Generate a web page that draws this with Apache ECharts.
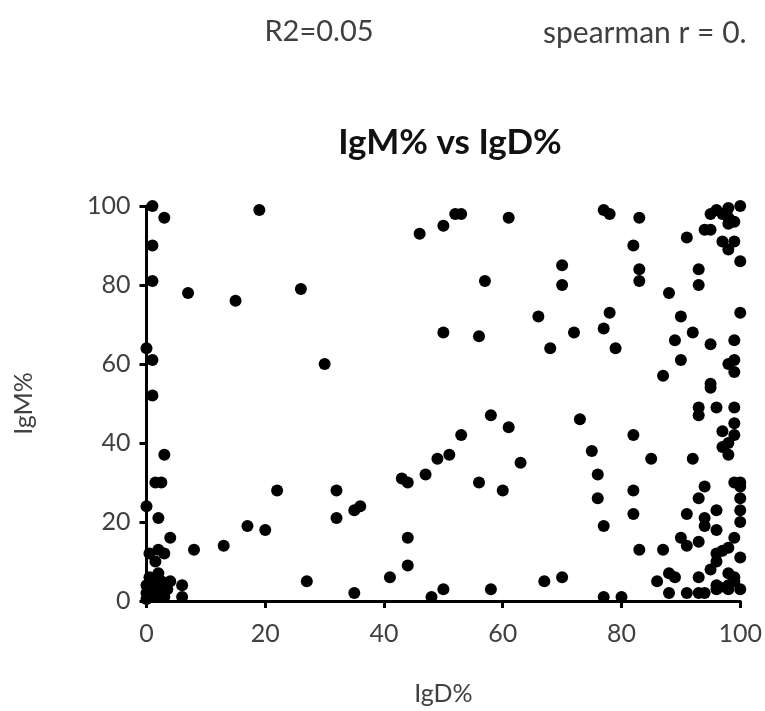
<!DOCTYPE html>
<html>
<head>
<meta charset="utf-8">
<script src="https://cdn.jsdelivr.net/npm/echarts@6/dist/echarts.min.js"></script>
<style>
  html, body { margin: 0; padding: 0; background: #fff; }
  #main { width: 765px; height: 711px; }
</style>
</head>
<body>
<div id="main"></div>
<script>
// IgD% (x) and IgM% (y)
const igD = [
  1, 3, 19, 1, 1, 7, 15, 26, 0, 1, 1, 30, 3, 1.5, 2.5, 0, 2, 4, 8, 13, 17, 20, 22, 27, 6, 6,
  0.5, 2, 3, 1.5, 2, 0.5, 1.5, 0, 1, 2.5, 0.5, 1.5, 0, 3, 2.5, 4, 3.5, 0,
  46, 50, 52, 53, 61, 57, 50, 56, 32, 32, 35, 36, 35, 41, 44, 44, 43, 44, 47, 49, 51, 53, 48, 50,
  56, 58, 60, 61, 63, 58,
  77, 78, 83, 95, 96, 98, 100, 98, 99, 98, 97, 94, 95, 91, 97, 98, 99, 100, 82, 70, 70, 83, 83,
  93, 93, 88, 66, 78, 77, 72, 68, 79, 90, 100, 92, 89, 95, 99, 90, 98, 99, 99, 87, 95, 95, 93,
  96, 99, 93, 99, 97, 99, 97, 98, 98, 73, 75, 76, 76, 77, 82, 82, 82, 85, 83, 87, 92, 94, 93,
  91, 94, 94, 96, 96, 99, 100, 100, 100, 100, 100, 90, 91, 93, 99, 98, 97, 96, 96, 95, 100, 88,
  89, 86, 93, 98, 99, 99, 98, 96, 96.5, 77, 80, 88, 91, 93, 94, 96, 98, 100, 67, 70
];
const igM = [
  100, 97, 99, 90, 81, 78, 76, 79, 64, 61, 52, 60, 37, 30, 30, 24, 21, 16, 13, 14, 19, 18, 28, 5, 4, 1,
  12, 13, 12, 10, 7, 6, 5, 4, 3, 3, 2, 1, 0.5, 1, 5, 5, 3, 2,
  93, 95, 98, 98, 97, 81, 68, 67, 28, 21, 23, 24, 2, 6, 9, 16, 31, 30, 32, 36, 37, 42, 1, 3,
  30, 47, 28, 44, 35, 3,
  99, 98, 97, 98, 99, 99.5, 100, 97, 96, 95.5, 98, 94, 94, 92, 91, 89, 91, 86, 90, 85, 80, 84, 81,
  84, 80, 78, 72, 73, 69, 68, 64, 64, 72, 73, 68, 66, 65, 66, 61, 60, 61, 58, 57, 55, 54, 49,
  49, 49, 47, 45, 43, 42, 39, 40, 37, 46, 38, 32, 26, 19, 42, 28, 22, 36, 13, 13, 36, 29, 26,
  22, 21, 19, 23, 18, 30, 30, 29, 26, 23, 20, 16, 14, 15, 16, 13.5, 12.7, 12, 10, 8, 11, 7,
  6, 5, 6, 7, 6, 5, 4, 4, 3.5, 1, 1, 2, 2, 2, 2, 3, 3, 3, 5, 6
];
const ticks = [0, 20, 40, 60, 80, 100];

const points = igD.map((x, i) => [x, igM[i]]);

const font = 'Lato, "Open Sans", sans-serif';
const axisCommon = {
  min: ticks[0],
  max: ticks[ticks.length - 1],
  interval: ticks[1] - ticks[0],
  splitLine: { show: false },
  axisLine: { show: true, onZero: false, lineStyle: { color: '#000', width: 3 } },
  axisTick: { show: true, length: 7, lineStyle: { color: '#000', width: 3 } },
  axisLabel: { color: '#404040', fontSize: 25, fontFamily: font },
  nameLocation: 'middle',
  nameTextStyle: { color: '#404040', fontSize: 25, fontFamily: font }
};

const chart = echarts.init(document.getElementById('main'));
chart.setOption({
  animation: false,
  backgroundColor: '#fff',
  title: [
    {
      text: 'IgM% vs IgD%', left: 445, top: 120, textAlign: 'center',
      textStyle: { fontSize: 35, fontWeight: 'bold', color: '#111', fontFamily: font }
    },
    {
      text: 'R2=0.05', left: 314, top: 12, textAlign: 'center',
      textStyle: { fontSize: 29, fontWeight: 'normal', color: '#404040', fontFamily: font }
    },
    {
      text: 'spearman r = 0.', left: 538, top: 13,
      textStyle: { fontSize: 30, fontWeight: 'normal', color: '#404040', fontFamily: font }
    }
  ],
  grid: { left: 146.5, right: 24, top: 206, bottom: 109, containLabel: false },
  xAxis: Object.assign({}, axisCommon, {
    type: 'value',
    name: 'IgD%',
    nameGap: 80,
    axisLabel: Object.assign({}, axisCommon.axisLabel, { margin: 20 })
  }),
  yAxis: Object.assign({}, axisCommon, {
    type: 'value',
    name: 'IgM%',
    nameGap: 110,
    axisLabel: Object.assign({}, axisCommon.axisLabel, { margin: 16 })
  }),
  series: [
    {
      type: 'scatter',
      data: points,
      symbol: 'circle',
      symbolSize: 12,
      clip: false,
      itemStyle: { color: '#000', opacity: 1 }
    }
  ]
});
</script>
</body>
</html>
